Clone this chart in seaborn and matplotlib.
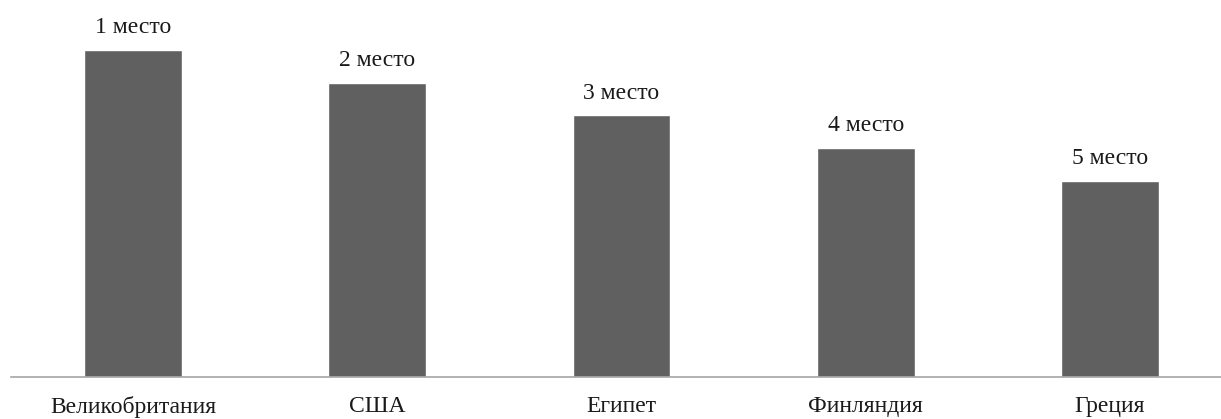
import matplotlib
matplotlib.use("Agg")
import matplotlib.pyplot as plt
import seaborn as sns
import pandas as pd

# Data
countries = ["Великобритания", "США", "Египет", "Финляндия", "Греция"]
scores = [5, 4.5, 4, 3.5, 3]
places = ["1 место", "2 место", "3 место", "4 место", "5 место"]

sns.set_theme(style="white")
plt.rcParams["font.family"] = ["Liberation Serif", "DejaVu Serif"]

df = pd.DataFrame({"country": countries, "score": scores})

fig = plt.figure(figsize=(12.21, 4.19), dpi=100)
ax = fig.add_axes([11 / 1221, 42 / 419, 1210 / 1221, 367 / 419])

sns.barplot(data=df, x="country", y="score", color="#606060", width=0.4,
            saturation=1, ax=ax)

for i, (val, lab) in enumerate(zip(scores, places)):
    ax.annotate(lab, (i, val), xytext=(0, 12), textcoords="offset points",
                ha="center", va="baseline", fontsize=17, color="#1a1a1a")

ax.set_xlim(-0.5, 4.455)
ax.set_ylim(0, 5.61)
ax.set_xlabel("")
ax.set_ylabel("")
ax.set_yticks([])
ax.tick_params(axis="x", length=0, pad=13.5, labelsize=17, labelcolor="#1a1a1a")

for side in ["top", "right", "left"]:
    ax.spines[side].set_visible(False)
ax.spines["bottom"].set_color("#a6a6a6")
ax.spines["bottom"].set_linewidth(1.2)

fig.savefig("out.png", dpi=100)
